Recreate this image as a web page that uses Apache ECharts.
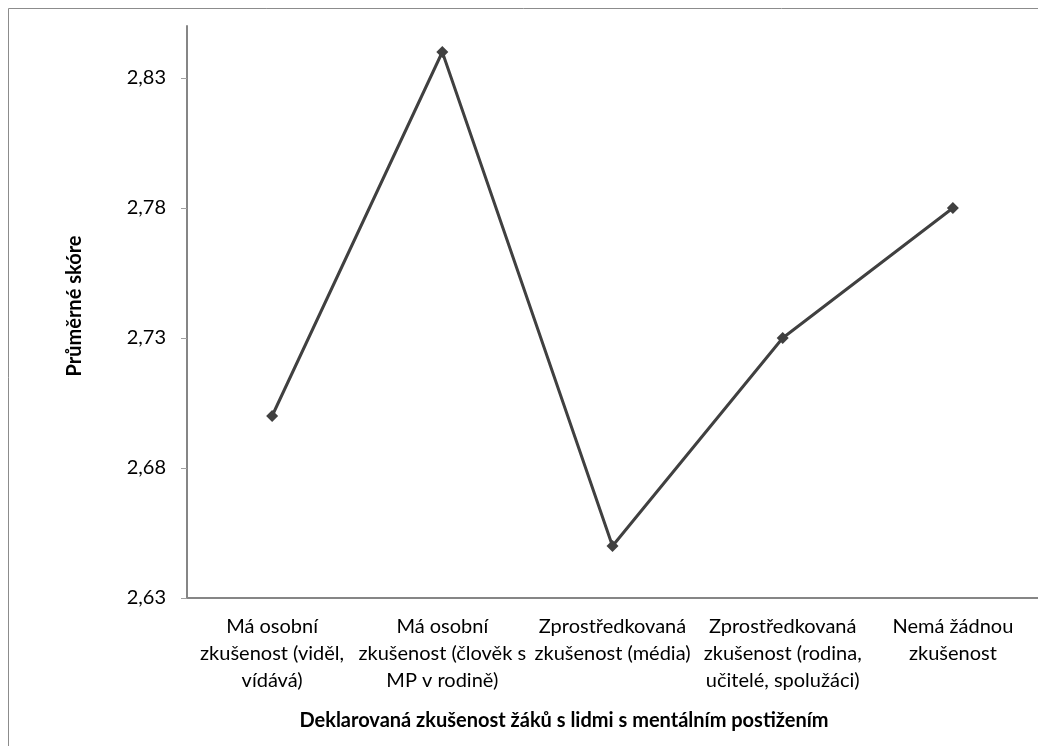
<!DOCTYPE html>
<html>
<head>
<meta charset="utf-8">
<script src="https://cdn.jsdelivr.net/npm/echarts@6/dist/echarts.min.js"></script>
<style>
html,body{margin:0;padding:0;background:#fff;}
#chart{width:1038px;height:746px;}
</style>
</head>
<body>
<div id="chart"></div>
<script>
const categories = [
  "Má osobní\nzkušenost (viděl,\nvídává)",
  "Má osobní\nzkušenost (člověk s\nMP v rodině)",
  "Zprostředkovaná\nzkušenost (média)",
  "Zprostředkovaná\nzkušenost (rodina,\nučitelé, spolužáci)",
  "Nemá žádnou\nzkušenost"
];
const scores = [2.70, 2.84, 2.65, 2.73, 2.78];
const yTicks = [2.63, 2.68, 2.73, 2.78, 2.83];
const yTitle = "Průměrné skóre";
const xTitle = "Deklarovaná zkušenost žáků s lidmi s mentálním postižením";

const FONT = "Lato";
const chart = echarts.init(document.getElementById('chart'), null, {renderer: 'canvas'});
chart.setOption({
  animation: false,
  backgroundColor: '#fff',
  grid: {left: 187, right: -2, top: 26, bottom: 148, containLabel: false},
  graphic: [
    {type: 'rect', shape: {x: 8.5, y: 8.5, width: 1200, height: 900},
     style: {fill: 'none', stroke: '#8c8c8c', lineWidth: 1}, silent: true, z: -10},
    {type: 'text', x: 75, y: 306, rotation: Math.PI / 2,
     style: {text: yTitle, font: 'bold 20px ' + FONT, fill: '#000', align: 'center', verticalAlign: 'middle'}},
    {type: 'text', x: 564, y: 721,
     style: {text: xTitle, font: 'bold 20px ' + FONT, fill: '#000', align: 'center', verticalAlign: 'middle'}}
  ],
  xAxis: {
    type: 'category',
    data: categories,
    boundaryGap: true,
    axisLine: {lineStyle: {color: '#868686', width: 2}},
    axisTick: {alignWithLabel: true, length: 5, lineStyle: {color: '#a0a0a0', width: 1}},
    axisLabel: {interval: 0, margin: 15, color: '#000', fontFamily: FONT, fontSize: 20, lineHeight: 27, align: 'center'},
    splitLine: {show: false}
  },
  yAxis: {
    type: 'value',
    min: 2.63,
    max: 2.85,
    axisLine: {show: true, lineStyle: {color: '#868686', width: 2}},
    axisTick: {show: true, length: 6, customValues: yTicks, lineStyle: {color: '#a0a0a0', width: 1}},
    axisLabel: {customValues: yTicks, margin: 21, color: '#000', fontFamily: FONT, fontSize: 20,
      formatter: v => v.toFixed(2).replace('.', ',')},
    splitLine: {show: false}
  },
  series: [{
    type: 'line',
    data: scores,
    symbol: 'diamond',
    symbolSize: 12,
    lineStyle: {color: '#404040', width: 3},
    itemStyle: {color: '#404040'},
    z: 5
  }]
});
</script>
</body>
</html>
